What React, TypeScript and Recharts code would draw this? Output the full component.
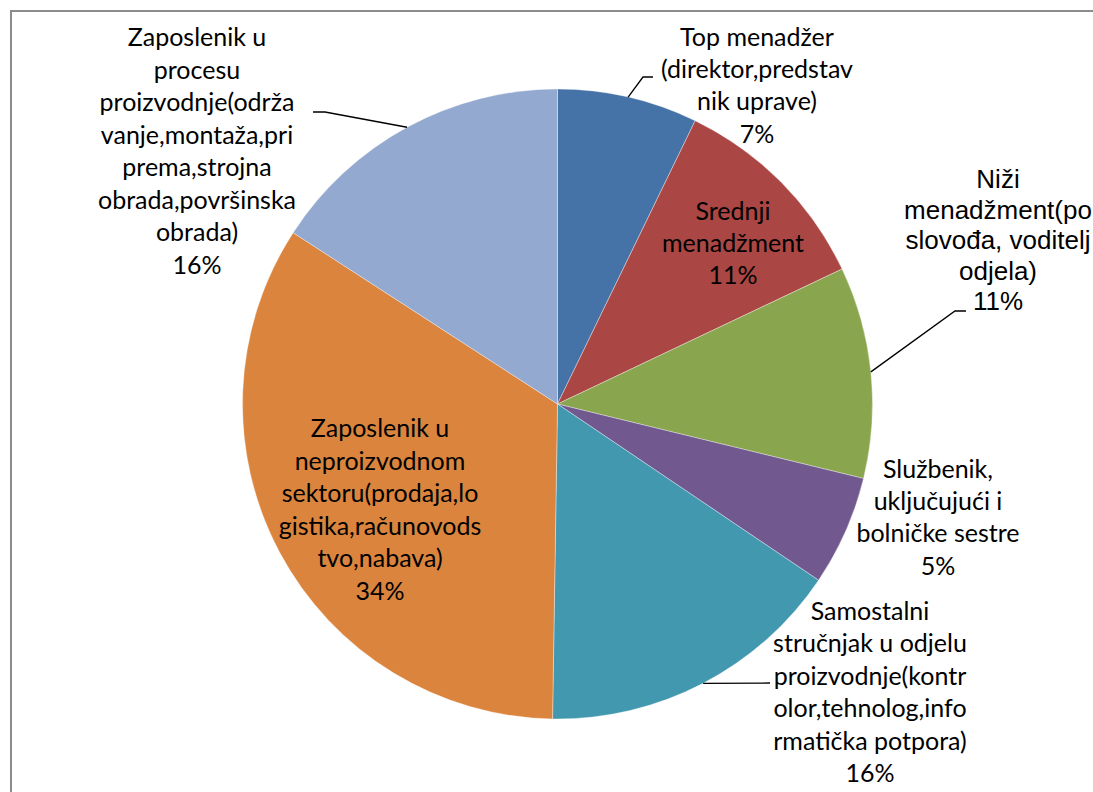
import React from 'react';
import { PieChart, Pie, Cell } from 'recharts';

const categories: string[] = [
  'Top menadžer\n(direktor,predstav\nnik uprave)',
  'Srednji\nmenadžment',
  'Niži\nmenadžment(po\nslovođa, voditelj\nodjela)',
  'Službenik,\nuključujući i\nbolničke sestre',
  'Samostalni\nstručnjak u odjelu\nproizvodnje(kontr\nolor,tehnolog,info\nrmatička potpora)',
  'Zaposlenik u\nneproizvodnom\nsektoru(prodaja,lo\ngistika,računovods\ntvo,nabava)',
  'Zaposlenik u\nprocesu\nproizvodnje(održa\nvanje,montaža,pri\nprema,strojna\nobrada,površinska\nobrada)',
];

const values: number[] = [7.2, 10.75, 10.85, 5.65, 15.8, 33.9, 15.85];

const percentLabels: string[] = ['7%', '11%', '11%', '5%', '16%', '34%', '16%'];

const colors: string[] = ['#4572A7', '#AA4643', '#89A54E', '#71588F', '#4198AF', '#DB843D', '#93A9CF'];

const CAL = 'Lato, "Open Sans", sans-serif';
const ARI = '"Liberation Sans", Arial, sans-serif';

type Layout = {
  dx: number;
  dy: number;
  lh: number;
  font: string;
  size: number;
  leader?: number[][];
};

// label placement relative to the pie centre (layout only)
const labelLayout: Layout[] = [
  { dx: 199.5, dy: -358, lh: 32.2, font: CAL, size: 25, leader: [[85.5, -327], [95.5, -327]] },
  { dx: 175.5, dy: -184, lh: 32.2, font: CAL, size: 25 },
  { dx: 440.5, dy: -216, lh: 30.5, font: ARI, size: 26, leader: [[397.5, -93], [408.5, -93]] },
  { dx: 380.5, dy: 74, lh: 32.2, font: CAL, size: 25 },
  { dx: 312.5, dy: 216, lh: 32.4, font: CAL, size: 25, leader: [[212.5, 279]] },
  { dx: -177.5, dy: 33, lh: 32.6, font: CAL, size: 25 },
  { dx: -360.5, dy: -358, lh: 32.5, font: CAL, size: 25, leader: [[-232.5, -292], [-244.5, -292]] },
];

const data = categories.map((c, i) => ({ name: c, value: values[i] }));

const RAD = Math.PI / 180;

const renderLabel = (props: any) => {
  const { cx, cy, midAngle, outerRadius, index } = props;
  const L = labelLayout[index];
  const lines = [...categories[index].split('\n'), percentLabels[index]];
  const x = cx + L.dx;
  const y0 = cy + L.dy;
  let leader: React.ReactNode = null;
  if (L.leader) {
    const sx = cx + outerRadius * Math.cos(-midAngle * RAD);
    const sy = cy + outerRadius * Math.sin(-midAngle * RAD);
    const pts = [[sx, sy], ...L.leader.map(([a, b]) => [cx + a, cy + b])];
    leader = (
      <polyline
        points={pts.map((p) => p.join(',')).join(' ')}
        fill="none"
        stroke="#000"
        strokeWidth={1.3}
      />
    );
  }
  return (
    <g key={`lbl-${index}`}>
      {leader}
      <text x={x} y={y0} textAnchor="middle" fontFamily={L.font} fontSize={L.size} fill="#000">
        {lines.map((t, i) => (
          <tspan key={i} x={x} y={y0 + i * L.lh}>
            {t}
          </tspan>
        ))}
      </text>
    </g>
  );
};

export default function App() {
  return (
    <div style={{ position: 'absolute', left: 0, top: 0, width: 1093, height: 792, overflow: 'hidden', background: '#fff' }}>
      <div
        style={{
          position: 'absolute',
          left: 10,
          top: 10,
          width: 1200,
          height: 1200,
          border: '2px solid #8c8c8c',
          boxSizing: 'border-box',
        }}
      />
      <div style={{ position: 'absolute', left: 0, top: 0 }}>
        <PieChart width={1093} height={792} margin={{ top: 0, right: 0, bottom: 0, left: 0 }}>
          <Pie
            data={data}
            dataKey="value"
            nameKey="name"
            cx={557.5}
            cy={404}
            outerRadius={315}
            startAngle={90}
            endAngle={-270}
            stroke="#ffffff"
            strokeWidth={0.6}
            strokeOpacity={0.6}
            label={renderLabel}
            labelLine={false}
            isAnimationActive={false}
          >
            {data.map((d, i) => (
              <Cell key={i} fill={colors[i]} />
            ))}
          </Pie>
        </PieChart>
      </div>
    </div>
  );
}
